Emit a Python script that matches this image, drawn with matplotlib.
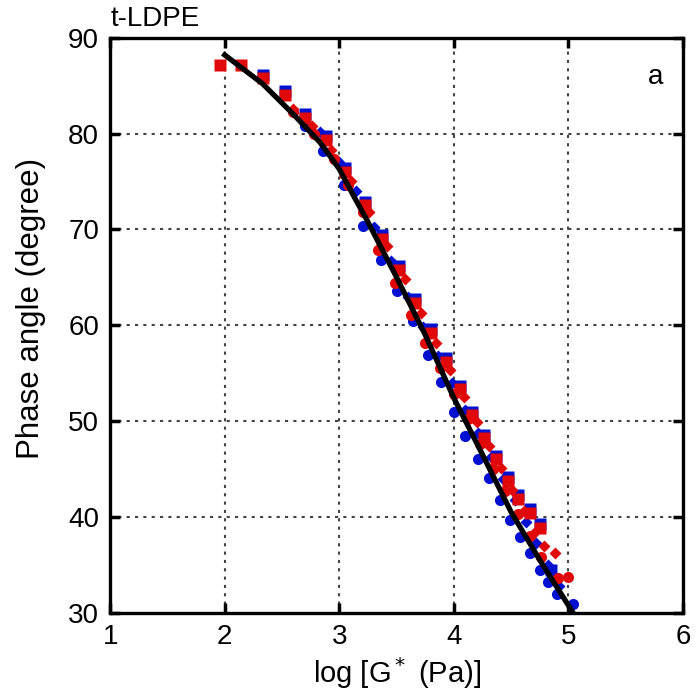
import numpy as np
import matplotlib.pyplot as plt

plt.rcParams["font.family"] = ["Liberation Sans", "DejaVu Sans"]

# fitted master curve
fit_x = [2.0, 2.33, 2.6, 2.83, 3.0, 3.12, 3.24, 3.5, 3.75, 4.0, 4.25, 4.5, 4.75, 5.03]
fit_y = [88.2, 85.2, 82.0, 79.1, 76.3, 73.6, 71.0, 65.0, 59.0, 52.4, 46.5, 40.5, 35.5, 30.2]

# squares (red over blue)
sq_red_x = [1.96, 2.14, 2.33, 2.53, 2.70, 2.88, 3.05, 3.22, 3.37, 3.52, 3.66, 3.80, 3.93,
            4.05, 4.16, 4.26, 4.37, 4.47, 4.56, 4.66, 4.75]
sq_red_y = [87.2, 87.1, 85.8, 84.0, 81.6, 79.3, 76.0, 72.5, 69.0, 65.8, 62.3, 59.2, 56.2,
            53.3, 50.6, 48.2, 46.0, 43.8, 41.9, 40.4, 38.9]
sq_blue_x = [2.33, 2.53, 2.70, 2.88, 3.05, 3.22, 3.37, 3.52, 3.66, 3.80, 3.93,
             4.05, 4.16, 4.26, 4.37, 4.47, 4.56, 4.66, 4.75, 4.85]
sq_blue_y = [86.1, 84.4, 82.0, 79.7, 76.4, 72.9, 69.4, 66.2, 62.7, 59.6, 56.6,
             53.7, 51.0, 48.6, 46.4, 44.2, 42.3, 40.8, 39.3, 34.5]

# circles
ci_blue_x = [2.70, 2.86, 3.04, 3.21, 3.36, 3.50, 3.64, 3.77, 3.89, 4.00, 4.10, 4.21,
             4.31, 4.40, 4.49, 4.58, 4.66, 4.75, 4.82, 4.90, 5.04]
ci_blue_y = [80.8, 78.2, 74.6, 70.4, 66.8, 63.6, 60.4, 56.9, 54.1, 51.0, 48.4, 46.1,
             44.1, 41.8, 39.7, 37.9, 36.2, 34.5, 33.2, 32.0, 30.9]
ci_red_x = [2.60, 2.78, 2.95, 3.08, 3.21, 3.34, 3.49, 3.63, 3.75, 3.88, 4.00, 4.12,
            4.23, 4.34, 4.45, 4.56, 4.66, 4.76, 4.91, 5.00]
ci_red_y = [82.3, 80.0, 77.3, 74.6, 71.8, 67.8, 64.4, 61.1, 58.2, 55.5, 52.8, 50.2,
            47.6, 45.0, 42.7, 40.3, 38.0, 35.8, 33.6, 33.7]

# diamonds
di_blue_x = [2.83, 3.00, 3.15, 3.30, 3.45, 3.60, 3.73, 3.86, 3.98, 4.10, 4.21, 4.32,
             4.43, 4.53, 4.63, 4.72, 4.82, 4.92]
di_blue_y = [80.2, 77.0, 74.0, 70.2, 66.7, 63.0, 59.8, 56.8, 54.0, 51.2, 48.8, 46.3,
             44.0, 41.8, 39.5, 37.3, 35.0, 32.8]
di_red_x = [2.60, 2.76, 2.93, 3.10, 3.26, 3.42, 3.57, 3.71, 3.84, 3.97, 4.09, 4.20,
            4.31, 4.41, 4.51, 4.61, 4.70, 4.79, 4.88]
di_red_y = [82.6, 80.8, 78.3, 75.0, 71.8, 68.3, 64.8, 61.3, 58.1, 55.3, 52.5, 49.9,
            47.4, 45.1, 42.8, 40.6, 38.3, 37.0, 36.2]

blue = "#0010d0"
red = "#e00808"

fig = plt.figure(figsize=(6.97, 6.98), dpi=100)
ax = fig.add_axes([0.158, 0.122, 0.822, 0.824])

ax.plot(ci_blue_x, ci_blue_y, "o", color=blue, ms=8, mec="none", zorder=2)
ax.plot(di_blue_x, di_blue_y, "D", color=blue, ms=6.5, mec="none", zorder=2)
ax.plot(sq_blue_x, sq_blue_y, "s", color=blue, ms=9, mec="none", zorder=2)
ax.plot(ci_red_x, ci_red_y, "o", color=red, ms=8, mec="none", zorder=3)
ax.plot(di_red_x, di_red_y, "D", color=red, ms=6.5, mec="none", zorder=3)
ax.plot(sq_red_x, sq_red_y, "s", color=red, ms=9, mec="none", zorder=3)
ax.plot(fit_x, fit_y, "-", color="black", lw=3.8, zorder=4)

ax.set_xlim(1, 6)
ax.set_ylim(30, 90)
ax.set_xticks([1, 2, 3, 4, 5, 6])
ax.set_yticks([30, 40, 50, 60, 70, 80, 90])
ax.grid(True, linestyle=(0, (1.5, 2.5)), color="#444444", lw=1.5)
ax.set_axisbelow(True)
ax.tick_params(direction="in", length=7, width=2.5, top=True, right=True,
               labelsize=20, pad=8)
for s in ax.spines.values():
    s.set_linewidth(2.4)

ax.set_xlabel("log [G$^*$ (Pa)]", fontsize=21)
ax.set_ylabel("Phase angle (degree)", fontsize=22.5)
ax.yaxis.set_label_coords(-0.112, 0.53)
ax.text(0.0, 1.01, "t-LDPE", transform=ax.transAxes, fontsize=20, va="bottom", ha="left")
ax.text(0.965, 0.955, "a", transform=ax.transAxes, fontsize=20, va="top", ha="right")

fig.savefig("out.png", dpi=100)
